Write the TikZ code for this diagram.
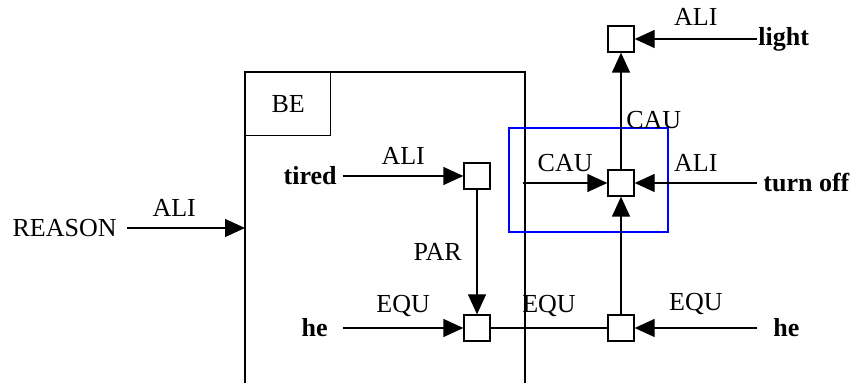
\documentclass[tikz,border=0pt]{standalone}
\usepackage{fontspec}
\setmainfont{Liberation Serif}
\usetikzlibrary{arrows.meta}

\begin{document}
\begin{tikzpicture}[x=0.5pt, y=-0.5pt, every node/.style={font=\fontsize{13}{15}\selectfont},
		cpt/.style={draw, line width=0.65pt, fill=white, minimum size=13pt, inner sep=0pt},
		wrd/.style={font=\fontsize{13}{15}\selectfont\bfseries},
		ln/.style={line width=0.65pt},
		ar/.style={line width=0.65pt, -{Triangle[length=10pt, width=9pt]}}]
	\useasboundingbox (0,0) rectangle (855,383);
	% the BE frame, open at the bottom
	\draw[ln] (245,383) -- (245,72) -- (525,72) -- (525,383);
	\node[draw, ln, anchor=north west, minimum width=42.5pt, minimum height=31.5pt] (be) at (245,72) {BE};
	\draw[blue, line width=0.65pt] (509,128) rectangle (668,232);
	\node[cpt] (b1) at (477,176) {};
	\node[cpt] (b2) at (477,328) {};
	\node[cpt] (b3) at (621,328) {};
	\node[cpt] (b4) at (621,183) {};
	\node[cpt] (b5) at (621,39)  {};
	\coordinate (rin) at (245,228);
	\coordinate (cin) at (523,183);
	\node[anchor=east, inner xsep=5pt] (reason) at (127,228) {REASON};
	\node[wrd, anchor=east, inner xsep=3pt] (tired) at (343,176) {tired};
	\node[wrd, anchor=east, inner xsep=7.5pt] (he1) at (343,328) {he};
	\node[wrd, anchor=west, inner xsep=8pt] (he2) at (757,328) {he};
	\node[wrd, anchor=west, inner xsep=3pt] (toff) at (757,183) {turn off};
	\node[wrd, anchor=west, inner xsep=0.5pt] (light) at (757,39) {light};
	\draw[ar] (reason) -- (rin) node[pos=0.4, above=2pt] {ALI};
	\draw[ar] (tired) -- (b1) node[midway, above=2pt] {ALI};
	\draw[ar] (b1) -- (b2) node[midway, left=4pt] {PAR};
	\draw[ar] (he1) -- (b2) node[midway, above=2pt] {EQU};
	\draw[ln] (b2) -- (b3) node[midway, above=2pt] {EQU};
	\draw[ar] (he2) -- (b3) node[midway, above=3pt] {EQU};
	\draw[ar] (b3) -- (b4);
	\draw[ar] (toff) -- (b4) node[midway, above=2pt] {ALI};
	\draw[ar] (cin) -- (b4) node[midway, above=2pt] {CAU};
	\draw[ar] (b4) -- (b5) node[pos=0.42, right=-1pt] {CAU};
	\draw[ar] (light) -- (b5) node[midway, above=3pt] {ALI};
\end{tikzpicture}
\end{document}
